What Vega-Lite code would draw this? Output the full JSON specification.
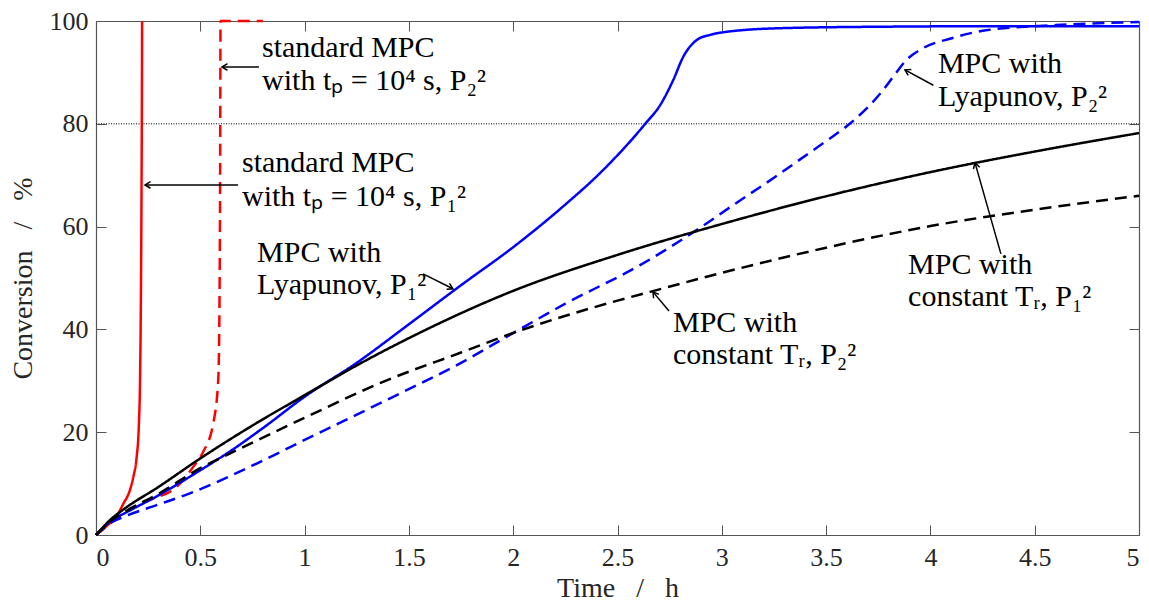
{
  "$schema": "https://vega.github.io/schema/vega-lite/v6.json",
  "width": 1043,
  "height": 514,
  "autosize": {"type": "none"},
  "padding": {"left": 96, "top": 21, "right": 10, "bottom": 74},
  "background": "white",
  "config": {
    "view": {"stroke": null},
    "font": "Liberation Serif",
    "axis": {
      "domainColor": "#555555",
      "tickColor": "#555555",
      "labelColor": "#262626",
      "titleColor": "#262626",
      "labelFont": "Liberation Serif",
      "titleFont": "Liberation Serif",
      "labelFontSize": 26,
      "titleFontSize": 28,
      "titleFontWeight": "normal",
      "grid": false,
      "tickSize": -10,
      "domainWidth": 1.2,
      "tickWidth": 1
    }
  },
  "datasets": {
    "curves": [
      {"s": "rs", "t": 0, "v": 0}, {"s": "rs", "t": 0.05, "v": 1.7}, {"s": "rs", "t": 0.1, "v": 3.8}, {"s": "rs", "t": 0.13, "v": 6}, {"s": "rs", "t": 0.163, "v": 8.8}, {"s": "rs", "t": 0.18, "v": 11.5}, {"s": "rs", "t": 0.195, "v": 15.2}, {"s": "rs", "t": 0.205, "v": 21}, {"s": "rs", "t": 0.211, "v": 30}, {"s": "rs", "t": 0.215, "v": 45}, {"s": "rs", "t": 0.218, "v": 65}, {"s": "rs", "t": 0.22, "v": 85}, {"s": "rs", "t": 0.221, "v": 100},
      {"s": "rd", "t": 0, "v": 0}, {"s": "rd", "t": 0.1, "v": 3.2}, {"s": "rd", "t": 0.2, "v": 5.8}, {"s": "rd", "t": 0.275, "v": 7.1}, {"s": "rd", "t": 0.37, "v": 8.8}, {"s": "rd", "t": 0.467, "v": 13.3}, {"s": "rd", "t": 0.514, "v": 16.2}, {"s": "rd", "t": 0.562, "v": 21.7}, {"s": "rd", "t": 0.586, "v": 30.2}, {"s": "rd", "t": 0.592, "v": 45}, {"s": "rd", "t": 0.595, "v": 70}, {"s": "rd", "t": 0.597, "v": 100}, {"s": "rd", "t": 0.8, "v": 100},
      {"s": "bs", "t": 0, "v": 0}, {"s": "bs", "t": 0.067, "v": 2.6}, {"s": "bs", "t": 0.15, "v": 4.5}, {"s": "bs", "t": 0.29, "v": 7.5}, {"s": "bs", "t": 0.5, "v": 12.6}, {"s": "bs", "t": 0.64, "v": 16.2}, {"s": "bs", "t": 0.8, "v": 20.8}, {"s": "bs", "t": 1, "v": 26.9}, {"s": "bs", "t": 1.25, "v": 33.5}, {"s": "bs", "t": 1.5, "v": 41}, {"s": "bs", "t": 1.75, "v": 48.6}, {"s": "bs", "t": 2, "v": 56}, {"s": "bs", "t": 2.25, "v": 64.3}, {"s": "bs", "t": 2.416, "v": 70.4}, {"s": "bs", "t": 2.635, "v": 80.1}, {"s": "bs", "t": 2.704, "v": 83.6}, {"s": "bs", "t": 2.767, "v": 88.5}, {"s": "bs", "t": 2.816, "v": 93.1}, {"s": "bs", "t": 2.88, "v": 96.3}, {"s": "bs", "t": 2.943, "v": 97.3}, {"s": "bs", "t": 3.006, "v": 97.8}, {"s": "bs", "t": 3.28, "v": 98.6}, {"s": "bs", "t": 3.8, "v": 98.9}, {"s": "bs", "t": 4.4, "v": 99}, {"s": "bs", "t": 5, "v": 99},
      {"s": "bd", "t": 0, "v": 0}, {"s": "bd", "t": 0.067, "v": 2.3}, {"s": "bd", "t": 0.15, "v": 3.8}, {"s": "bd", "t": 0.29, "v": 5.8}, {"s": "bd", "t": 0.45, "v": 8.1}, {"s": "bd", "t": 0.77, "v": 13.9}, {"s": "bd", "t": 1, "v": 18.5}, {"s": "bd", "t": 1.41, "v": 26.6}, {"s": "bd", "t": 1.75, "v": 33.5}, {"s": "bd", "t": 2, "v": 39.3}, {"s": "bd", "t": 2.25, "v": 45}, {"s": "bd", "t": 2.608, "v": 52.5}, {"s": "bd", "t": 2.89, "v": 59.6}, {"s": "bd", "t": 3.055, "v": 64.2}, {"s": "bd", "t": 3.25, "v": 69.5}, {"s": "bd", "t": 3.425, "v": 74.5}, {"s": "bd", "t": 3.52, "v": 77.2}, {"s": "bd", "t": 3.619, "v": 80.2}, {"s": "bd", "t": 3.762, "v": 86}, {"s": "bd", "t": 3.83, "v": 89.6}, {"s": "bd", "t": 3.88, "v": 92.2}, {"s": "bd", "t": 3.964, "v": 94.7}, {"s": "bd", "t": 4.098, "v": 96.6}, {"s": "bd", "t": 4.267, "v": 98.2}, {"s": "bd", "t": 4.6, "v": 99.2}, {"s": "bd", "t": 5, "v": 99.8},
      {"s": "ks", "t": 0, "v": 0}, {"s": "ks", "t": 0.067, "v": 2.9}, {"s": "ks", "t": 0.15, "v": 5.5}, {"s": "ks", "t": 0.29, "v": 9.1}, {"s": "ks", "t": 0.5, "v": 14.9}, {"s": "ks", "t": 0.75, "v": 21.3}, {"s": "ks", "t": 1, "v": 27.2}, {"s": "ks", "t": 1.25, "v": 33}, {"s": "ks", "t": 1.5, "v": 38.3}, {"s": "ks", "t": 2, "v": 47.5}, {"s": "ks", "t": 2.5, "v": 54.5}, {"s": "ks", "t": 3, "v": 60.5}, {"s": "ks", "t": 3.5, "v": 65.9}, {"s": "ks", "t": 4, "v": 70.6}, {"s": "ks", "t": 4.5, "v": 74.6}, {"s": "ks", "t": 5, "v": 78.2},
      {"s": "kd", "t": 0, "v": 0}, {"s": "kd", "t": 0.067, "v": 2.6}, {"s": "kd", "t": 0.15, "v": 4.8}, {"s": "kd", "t": 0.29, "v": 7.8}, {"s": "kd", "t": 0.5, "v": 13}, {"s": "kd", "t": 0.66, "v": 16.2}, {"s": "kd", "t": 1, "v": 22.8}, {"s": "kd", "t": 1.376, "v": 29.8}, {"s": "kd", "t": 1.75, "v": 35.5}, {"s": "kd", "t": 2, "v": 39.3}, {"s": "kd", "t": 2.5, "v": 45.6}, {"s": "kd", "t": 2.656, "v": 47.3}, {"s": "kd", "t": 3, "v": 51}, {"s": "kd", "t": 3.247, "v": 53.5}, {"s": "kd", "t": 3.5, "v": 55.9}, {"s": "kd", "t": 4, "v": 60.1}, {"s": "kd", "t": 4.5, "v": 63.3}, {"s": "kd", "t": 5, "v": 66}
    ],
    "ref": [{"t": 0, "v": 80}, {"t": 5, "v": 80}],
    "labels": [
      {"t": 0.796, "v": 94.7, "text": "standard MPC"},
      {"t": 0.796, "v": 88.3, "text": "with tₚ = 10⁴ s, P₂²"},
      {"t": 0.7, "v": 72.4, "text": "standard MPC"},
      {"t": 0.7, "v": 65.8, "text": "with tₚ = 10⁴ s, P₁²"},
      {"t": 0.772, "v": 54.9, "text": "MPC with"},
      {"t": 0.772, "v": 48.6, "text": "Lyapunov, P₁²"},
      {"t": 4.036, "v": 91.6, "text": "MPC with"},
      {"t": 4.036, "v": 85.2, "text": "Lyapunov, P₂²"},
      {"t": 3.893, "v": 52.5, "text": "MPC with"},
      {"t": 3.893, "v": 46.3, "text": "constant Tᵣ, P₁²"},
      {"t": 2.766, "v": 41.2, "text": "MPC with"},
      {"t": 2.766, "v": 35.0, "text": "constant Tᵣ, P₂²"}
    ],
    "arrows": [
      {"t": 0.781, "v": 91.05, "t2": 0.604, "v2": 91.05, "ang": 270},
      {"t": 0.681, "v": 68.1, "t2": 0.235, "v2": 68.1, "ang": 270},
      {"t": 1.568, "v": 50.8, "t2": 1.711, "v2": 47.9, "ang": 116.6},
      {"t": 4.014, "v": 87.5, "t2": 3.878, "v2": 90.5, "ang": 298},
      {"t": 4.338, "v": 54.7, "t2": 4.214, "v2": 72.4, "ang": 344},
      {"t": 2.747, "v": 43.6, "t2": 2.67, "v2": 47.3, "ang": 323.6}
    ]
  },
  "layer": [
    {
      "data": {"name": "ref"},
      "mark": {"type": "line", "color": "black", "strokeWidth": 1, "strokeDash": [1, 1.5]},
      "encoding": {
        "x": {"field": "t", "type": "quantitative", "scale": {"domain": [0, 5], "nice": false, "zero": false}, "axis": {"orient": "top", "labels": false, "title": null, "values": [0, 0.5, 1, 1.5, 2, 2.5, 3, 3.5, 4, 4.5, 5]}},
        "y": {"field": "v", "type": "quantitative", "scale": {"domain": [0, 100], "nice": false}, "axis": {"orient": "right", "labels": false, "title": null, "values": [0, 20, 40, 60, 80, 100]}}
      }
    },
    {
      "data": {"name": "curves"},
      "mark": {"type": "line", "strokeWidth": 2.5, "interpolate": "monotone"},
      "encoding": {
        "x": {"field": "t", "type": "quantitative", "axis": {"orient": "bottom", "title": "Time \u2002/\u2002 h", "format": "~g", "values": [0, 0.5, 1, 1.5, 2, 2.5, 3, 3.5, 4, 4.5, 5], "labelPadding": 19, "titlePadding": 4}},
        "y": {"field": "v", "type": "quantitative", "axis": {"orient": "left", "title": "Conversion \u2002/\u2002 %", "values": [0, 20, 40, 60, 80, 100], "labelPadding": 18, "titlePadding": 12}},
        "color": {"field": "s", "type": "nominal", "scale": {"domain": ["rs", "rd", "bs", "bd", "ks", "kd"], "range": ["#ff0000", "#ff0000", "#0000ff", "#0000ff", "#000000", "#000000"]}, "legend": null},
        "strokeDash": {"field": "s", "type": "nominal", "scale": {"domain": ["rs", "rd", "bs", "bd", "ks", "kd"], "range": [[1, 0], [12, 7], [1, 0], [12, 7], [1, 0], [12, 7]]}, "legend": null}
      }
    },
    {
      "data": {"name": "arrows"},
      "mark": {"type": "rule", "color": "black", "strokeWidth": 1.5},
      "encoding": {
        "x": {"field": "t", "type": "quantitative", "axis": null},
        "y": {"field": "v", "type": "quantitative", "axis": null},
        "x2": {"field": "t2"},
        "y2": {"field": "v2"}
      }
    },
    {
      "data": {"name": "arrows"},
      "mark": {"type": "point", "shape": "M-0.6,1L0,0L0.6,1", "filled": false, "stroke": "black", "strokeWidth": 1.5, "size": 120, "opacity": 1},
      "encoding": {
        "x": {"field": "t2", "type": "quantitative", "axis": null},
        "y": {"field": "v2", "type": "quantitative", "axis": null},
        "angle": {"field": "ang", "type": "quantitative", "scale": null}
      }
    },
    {
      "data": {"name": "labels"},
      "mark": {"type": "text", "align": "left", "baseline": "middle", "font": "Liberation Serif", "fontSize": 30, "color": "black"},
      "encoding": {
        "x": {"field": "t", "type": "quantitative", "axis": null},
        "y": {"field": "v", "type": "quantitative", "axis": null},
        "text": {"field": "text", "type": "nominal"}
      }
    }
  ],
  "resolve": {"axis": {"x": "independent", "y": "independent"}}
}
